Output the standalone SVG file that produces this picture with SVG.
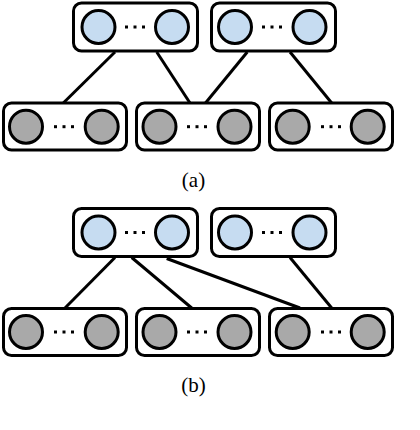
<svg xmlns="http://www.w3.org/2000/svg" width="420" height="430" viewBox="0 0 420 430">
<style>
.box{fill:#fff;stroke:#000;stroke-width:3}
.in{fill:#c6dcf1;stroke:#000;stroke-width:3}
.hid{fill:#a9a9a9;stroke:#000;stroke-width:3}
.dot{fill:#000}
.edge{stroke:#000;stroke-width:3;fill:none}
.cap{font-family:"Liberation Serif",serif;font-size:21px;fill:#000;text-anchor:middle}
</style>
<defs>
<g id="dots"><rect x="-10" y="-1.5" width="3" height="3"/><rect x="-1.5" y="-1.5" width="3" height="3"/><rect x="7" y="-1.5" width="3" height="3"/></g>
</defs>
<rect width="420" height="430" fill="#fff"/>
<g id="connectors">
<line class="edge" x1="115" y1="52" x2="63.3" y2="103"/>
<line class="edge" x1="156.7" y1="52" x2="190" y2="103"/>
<line class="edge" x1="247.3" y1="52" x2="205.5" y2="103"/>
<line class="edge" x1="290" y1="52" x2="331.7" y2="103"/>
<line class="edge" x1="115" y1="257.5" x2="65" y2="308"/>
<line class="edge" x1="131.7" y1="257.5" x2="191.7" y2="308"/>
<line class="edge" x1="166.7" y1="258.5" x2="300" y2="308"/>
<line class="edge" x1="290" y1="257.5" x2="331.7" y2="308"/>
</g>
<g id="a-top1"><rect class="box" x="73.5" y="3" width="124" height="48" rx="8"/><circle class="in" cx="98.5" cy="27" r="16.5"/><circle class="in" cx="172" cy="27" r="16.5"/><use href="#dots" x="135" y="27"/></g>
<g id="a-top2"><rect class="box" x="211.5" y="3" width="124" height="48" rx="8"/><circle class="in" cx="235" cy="27" r="16.5"/><circle class="in" cx="309.5" cy="27" r="16.5"/><use href="#dots" x="272" y="27"/></g>
<g id="a-bot1"><rect class="box" x="3.5" y="103" width="123" height="47" rx="8"/><circle class="hid" cx="26" cy="126.7" r="16.5"/><circle class="hid" cx="101.7" cy="126.7" r="16.5"/><use href="#dots" x="64" y="126.7"/></g>
<g id="a-bot2"><rect class="box" x="136.5" y="103" width="123" height="47" rx="8"/><circle class="hid" cx="159.5" cy="126.7" r="16.5"/><circle class="hid" cx="234.5" cy="126.7" r="16.5"/><use href="#dots" x="197" y="126.7"/></g>
<g id="a-bot3"><rect class="box" x="269.5" y="103" width="123" height="47" rx="8"/><circle class="hid" cx="292.7" cy="126.7" r="16.5"/><circle class="hid" cx="367.7" cy="126.7" r="16.5"/><use href="#dots" x="331" y="126.7"/></g>
<text class="cap" x="193.5" y="187">(a)</text>
<g id="b-top1"><rect class="box" x="73.5" y="208.5" width="124" height="48" rx="8"/><circle class="in" cx="98.5" cy="232.5" r="16.5"/><circle class="in" cx="172" cy="232.5" r="16.5"/><use href="#dots" x="135" y="232.5"/></g>
<g id="b-top2"><rect class="box" x="211.5" y="208.5" width="124" height="48" rx="8"/><circle class="in" cx="235" cy="232.5" r="16.5"/><circle class="in" cx="309.5" cy="232.5" r="16.5"/><use href="#dots" x="272" y="232.5"/></g>
<g id="b-bot1"><rect class="box" x="3.5" y="308.5" width="123" height="47" rx="8"/><circle class="hid" cx="26" cy="332" r="16.5"/><circle class="hid" cx="101.7" cy="332" r="16.5"/><use href="#dots" x="64" y="332"/></g>
<g id="b-bot2"><rect class="box" x="136.5" y="308.5" width="123" height="47" rx="8"/><circle class="hid" cx="159.5" cy="332" r="16.5"/><circle class="hid" cx="234.5" cy="332" r="16.5"/><use href="#dots" x="197" y="332"/></g>
<g id="b-bot3"><rect class="box" x="269.5" y="308.5" width="123" height="47" rx="8"/><circle class="hid" cx="292.7" cy="332" r="16.5"/><circle class="hid" cx="367.7" cy="332" r="16.5"/><use href="#dots" x="331" y="332"/></g>
<text class="cap" x="193.5" y="392">(b)</text>
</svg>
